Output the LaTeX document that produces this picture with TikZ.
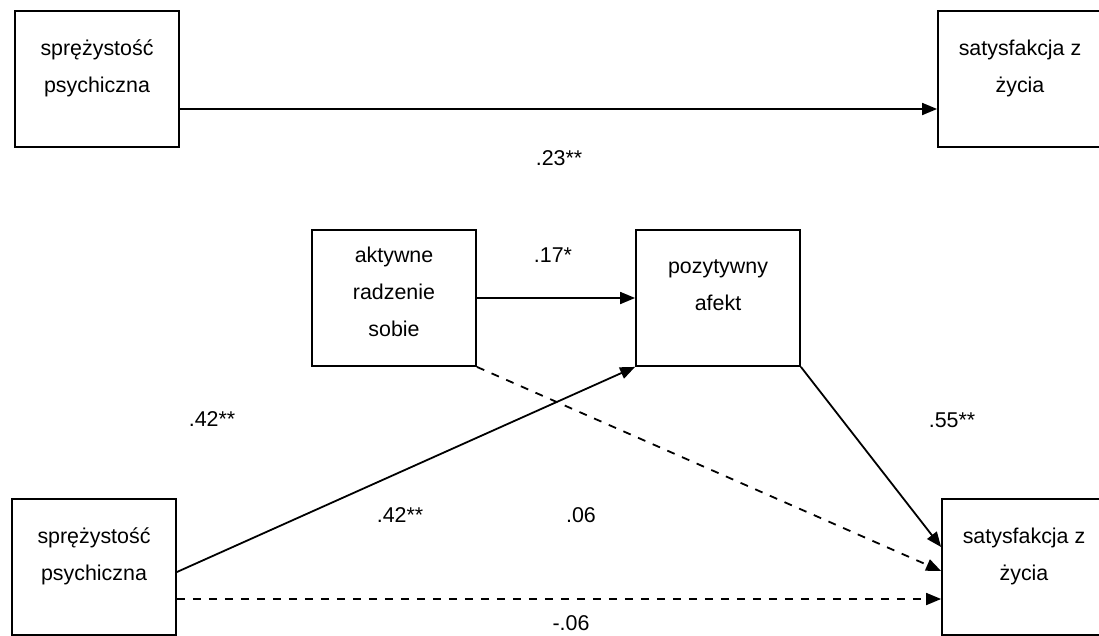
\documentclass[tikz,border=0pt]{standalone}
\usepackage{fontspec}
\setmainfont{Liberation Sans}
\usetikzlibrary{arrows.meta}
\begin{document}
\begin{tikzpicture}[x=1pt,y=-1pt,
  box/.style={draw=black, line width=1.8pt, minimum width=164pt, minimum height=136pt, inner sep=0pt},
  txt/.style={align=center, inner sep=0pt, font=\fontsize{21.4}{37}\selectfont},
  lbl/.style={inner sep=0pt, font=\fontsize{21.4}{26}\selectfont},
  arr/.style={line width=1.8pt, -{Triangle[length=15pt,width=12pt]}},
  dsh/.style={arr, dash pattern=on 8pt off 8pt}]
\useasboundingbox (0,0) rectangle (1099,635);
% top model
\node[box] (tl) at (97,79) {};
\node[txt] (tlt) at ([yshift=10.5pt]tl.center) {sprężystość\\psychiczna};
\node[box] (tr) at (1020,79) {};
\node[txt] (trt) at ([yshift=10.5pt]tr.center) {satysfakcja z\\życia};
\draw[arr] ([yshift=-30pt]tl.east) -- ([yshift=-30pt]tr.west);
\node[lbl] (l23) at (559,158) {.23**};
% bottom model
\node[box] (ak) at (394,298) {};
\node[txt] (akt) at ([yshift=6pt]ak.center) {aktywne\\radzenie\\sobie};
\node[box] (pa) at (718,298) {};
\node[txt] (pat) at ([yshift=12.5pt]pa.center) {pozytywny\\afekt};
\node[box] (sp) at (94,567) {};
\node[txt] (spt) at ([yshift=10.5pt]sp.center) {sprężystość\\psychiczna};
\node[box] (sz) at (1024,567) {};
\node[txt] (szt) at ([yshift=10.5pt]sz.center) {satysfakcja z\\życia};
\draw[arr] (ak.east) -- (pa.west);
\draw[arr] ([yshift=-5pt]sp.east) -- (pa.south west);
\draw[arr] (pa.south east) -- ([yshift=20pt]sz.west);
\draw[dsh] (ak.south east) -- ([yshift=-4pt]sz.west);
\draw[dsh] ([yshift=-32pt]sp.east) -- ([yshift=-32pt]sz.west);
\node[lbl] (l17) at (553,255) {.17*};
\node[lbl] (l42a) at (212,419) {.42**};
\node[lbl] (l55) at (952,420) {.55**};
\node[lbl] (l42b) at (400,515) {.42**};
\node[lbl] (l06) at (581,515) {.06};
\node[lbl] (lm06) at (571,623) {-.06};
\end{tikzpicture}
\end{document}
